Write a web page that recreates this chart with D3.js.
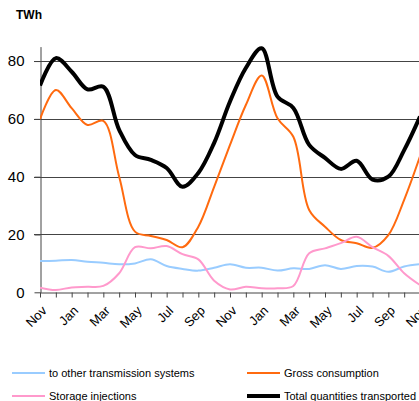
<!DOCTYPE html>
<html>
<head>
<meta charset="utf-8">
<script src="https://cdn.jsdelivr.net/npm/d3@7"></script>
<style>
  body { margin: 0; background: #fff; }
  svg { font-family: "Liberation Sans", Arial, sans-serif; }
</style>
</head>
<body>
<script>
// months, Nov to Nov (two years)
const months = ["Nov","Dec","Jan","Feb","Mar","Apr","May","Jun","Jul","Aug","Sep","Oct",
                "Nov","Dec","Jan","Feb","Mar","Apr","May","Jun","Jul","Aug","Sep","Oct","Nov"];

const total = [71.5,81,76.3,70.2,71.1,56.2,47.5,45.8,43,36.5,41.3,51.7,
               66,77.6,84.4,67.7,63.8,51,46.5,42.7,45.5,39,40,49.2,60.8];
const gross = [59.9,70,63.7,57.9,59.3,40,21,19.5,18.1,15.6,22.7,36.5,
               51,64.8,75,60.2,53.8,28.5,22.7,18.1,17,15.4,19.8,32,47];
const storage = [1.6,0.8,1.7,1.9,2.2,6.6,15.6,15.2,16,13.2,11.4,4,
                 1.0,1.9,1.4,1.4,2.2,13.5,15.2,17,19.2,15.6,12.6,6.6,2.5];
const transmission = [10.8,10.9,11.2,10.6,10.2,9.7,10,11.4,9.1,8.1,7.5,8.5,
                      9.7,8.5,8.5,7.5,8.3,8.1,9.4,8.1,9.1,8.9,7.1,8.9,9.7];

const yTicks = [0,20,40,60,80];

const series = [
  {name:"to other transmission systems", values:transmission, color:"#99ccff", width:2},
  {name:"Gross consumption", values:gross, color:"#ff6a0f", width:2},
  {name:"Storage injections", values:storage, color:"#ff99cc", width:2},
  {name:"Total quantities transported", values:total, color:"#000000", width:4}
];

const w = 419, h = 401;
const svg = d3.select("body").append("svg").attr("width", w).attr("height", h);

const x = d3.scaleLinear().domain([0, months.length-1]).range([40, 420]);
const y = d3.scaleLinear().domain([0, 85]).range([292.3, 46.6]);

// gridlines
svg.append("g").selectAll("line").data(yTicks.filter(d => d > 0)).enter()
  .append("line")
  .attr("x1", 34).attr("x2", w)
  .attr("y1", d => Math.round(y(d)) + 0.5).attr("y2", d => Math.round(y(d)) + 0.5)
  .attr("stroke", "#444").attr("stroke-width", 1);

// y axis
const yAxis = svg.append("g")
  .attr("transform", "translate(40.5,0)")
  .call(d3.axisLeft(y).tickValues(yTicks).tickSize(6).tickSizeOuter(0));
yAxis.select(".domain").attr("stroke", "#444");
yAxis.selectAll(".tick line").attr("stroke", "#444");
yAxis.selectAll("text").attr("font-size", 15).attr("fill", "#000")
  .attr("x", -16).attr("font-family", "Liberation Sans, Arial, sans-serif");

// x axis
const xAxis = svg.append("g")
  .attr("transform", "translate(0," + (Math.round(y(0)) + 0.5) + ")")
  .call(d3.axisBottom(x).tickValues(d3.range(months.length)).tickSize(5).tickSizeOuter(0)
    .tickFormat(i => i % 2 === 0 ? months[i] : ""));
xAxis.select(".domain").attr("stroke", "#444");
xAxis.selectAll(".tick line").attr("stroke", "#444");
xAxis.selectAll("text")
  .attr("font-size", 13).attr("fill", "#000")
  .attr("font-family", "Liberation Sans, Arial, sans-serif")
  .attr("text-anchor", "end")
  .attr("dy", 0).attr("y", 0)
  .attr("transform", "translate(7,19) rotate(-45)");

// lines
const line = d3.line()
  .x((d, i) => x(i))
  .y(d => y(d))
  .curve(d3.curveCatmullRom.alpha(0.5));

svg.append("defs").append("clipPath").attr("id", "clip")
  .append("rect").attr("x", 40).attr("y", 0).attr("width", w - 40).attr("height", 300);

svg.append("g").attr("clip-path", "url(#clip)")
  .selectAll("path").data(series).enter()
  .append("path")
  .attr("d", d => line(d.values))
  .attr("fill", "none")
  .attr("stroke", d => d.color)
  .attr("stroke-width", d => d.width)
  .attr("stroke-linejoin", "round");

// unit label
svg.append("text").attr("x", 16).attr("y", 19)
  .attr("font-size", 12).attr("font-weight", "bold").text("TWh");

// legend
const legendPos = [[12, 373], [247, 373], [12, 396], [247, 396]];
const leg = svg.append("g").selectAll("g").data(series).enter().append("g")
  .attr("transform", (d, i) => "translate(" + legendPos[i][0] + "," + legendPos[i][1] + ")");
leg.append("line").attr("x1", 0).attr("x2", 33).attr("y1", 0).attr("y2", 0)
  .attr("stroke", d => d.color).attr("stroke-width", d => d.width);
leg.append("text").attr("x", 37).attr("y", 4)
  .attr("font-size", 11).attr("fill", "#000").text(d => d.name);
</script>
</body>
</html>
